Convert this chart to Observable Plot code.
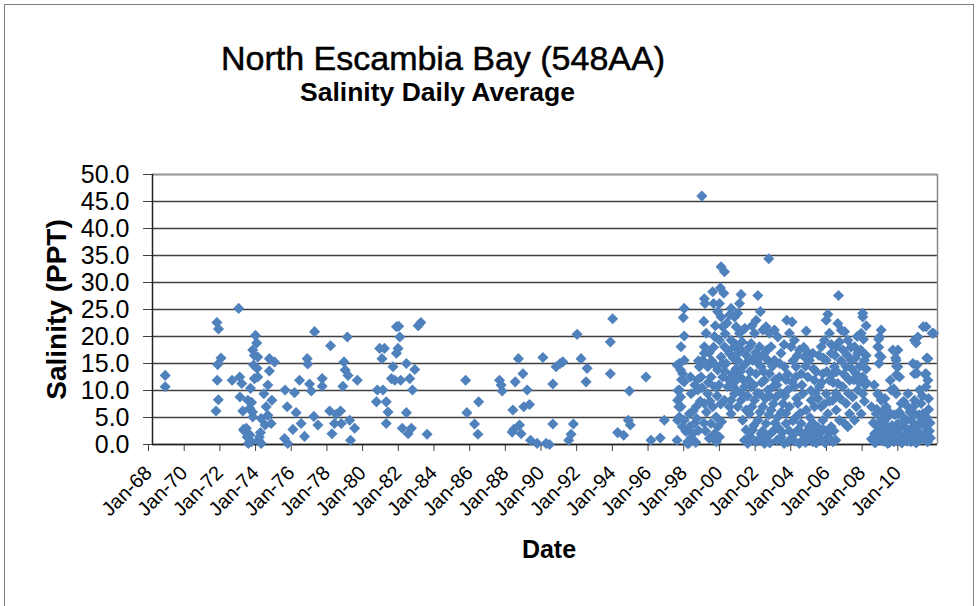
<!DOCTYPE html>
<html>
<head>
<meta charset="utf-8">
<script src="https://cdn.jsdelivr.net/npm/d3@7"></script>
<script src="https://cdn.jsdelivr.net/npm/@observablehq/plot@0.6"></script>
<style>
  html, body { margin: 0; padding: 0; background: #fff; overflow: hidden; }
  #wrap { position: relative; width: 979px; height: 606px; font-family: "Liberation Sans", Arial, sans-serif; }
  #border { position: absolute; left: 4px; top: 4px; width: 970px; height: 720px; border: 1px solid #7f7f7f; box-sizing: border-box; }
  #title { position: absolute; left: 0; width: 886px; top: 41px; text-align: center; font-size: 34px; color: #000; line-height: 1; -webkit-text-stroke: 0.5px #000; }
  #subtitle { position: absolute; left: 0; width: 875px; top: 79px; text-align: center; font-size: 26.5px; font-weight: bold; color: #000; line-height: 1; }
  #chart { position: absolute; left: 0; top: 0; }
</style>
</head>
<body>
<div id="wrap">
  <div id="border"></div>
  <div id="title">North Escambia Bay (548AA)</div>
  <div id="subtitle">Salinity Daily Average</div>
  <div id="chart"></div>
</div>
<script>
// decimal year, salinity (PPT)
const early = [
  [1968.71,12.8],[1968.71,10.7],
  [1971.61,22.6],[1971.70,21.4],[1971.84,16.0],[1971.65,14.8],[1971.63,11.9],[1971.69,8.3],[1971.56,6.2],
  [1972.83,25.2],[1972.46,11.9],[1972.89,12.5],[1973.0,11.3],[1972.9,8.8],[1973.06,6.2],[1973.1,2.8],
  [1973.77,20.2],[1973.84,18.8],[1973.62,17.5],[1973.71,16.5],[1973.9,16.2],[1973.67,14.7],[1973.86,14.1],
  [1973.71,12.2],[1973.9,12.5],[1973.49,10.4],[1973.34,8.2],[1973.45,6.7],[1973.62,5.1],[1973.26,3.0],
  [1973.3,1.4],[1973.37,0.2],[1973.99,1.4],[1974.09,0.2],[1974.09,4.8],[1974.24,9.4],[1974.37,7.0],
  [1974.46,5.4],[1974.31,3.6],[1974.46,11.0],[1974.55,13.6],[1974.55,15.9],[1974.84,15.3],[1974.69,8.2],
  [1974.65,3.9],[1973.15,2.5],[1973.45,1.8],[1973.55,0.5],[1974.05,2.2],[1973.95,0.8],[1973.55,7.8],[1973.6,6.0],
  [1975.43,10.1],[1975.96,9.6],[1975.55,7.0],[1976.05,5.9],[1975.4,1.1],[1975.58,0.2],[1975.87,2.8],
  [1976.24,11.9],[1976.33,3.9],[1976.52,1.5],[1976.67,15.9],[1976.7,14.9],[1976.8,11.2],[1976.9,9.9],
  [1977.08,20.9],[1977.04,5.2],[1977.27,3.6],[1977.51,12.2],[1977.51,10.8],[1977.98,18.3],[1977.93,6.2],
  [1978.06,2.0],[1978.2,3.9],[1978.3,5.6],[1978.54,6.2],[1978.58,3.9],[1978.67,10.8],[1978.73,15.3],
  [1978.8,13.8],[1978.92,19.9],[1978.96,12.8],[1979.05,4.5],[1979.1,0.8],[1979.33,3.0],[1979.48,11.9],
  [1980.55,7.9],[1980.6,10.1],[1980.92,10.1],[1980.73,17.8],[1981.0,17.8],[1980.86,15.9],[1981.1,7.9],
  [1981.2,6.0],[1981.1,3.9],[1981.48,14.4],[1981.67,16.9],[1981.76,17.8],[1981.86,19.9],[1981.67,21.8],
  [1981.8,21.9],[1981.39,12.2],[1981.58,11.9],[1981.91,11.9],[1982.0,3.0],[1982.23,5.9],[1982.23,15.0],
  [1982.33,2.0],[1982.42,12.2],[1982.51,3.0],[1982.57,10.1],[1982.7,13.9],[1982.89,22.0],[1983.04,22.6],
  [1983.39,1.9]
];
const middle = [
  [1985.55,11.9],[1985.62,5.9],[1986.05,3.8],[1986.24,1.9],[1986.28,7.9],[1987.45,11.9],[1987.54,11.0],
  [1987.6,9.9],[1988.2,6.4],[1988.16,2.3],[1988.25,2.8],[1988.33,11.6],[1988.51,15.9],[1988.57,3.6],
  [1988.66,2.0],[1988.76,13.1],[1988.81,7.0],[1989.0,10.1],[1989.13,7.4],[1989.19,0.8],[1989.56,0.2],
  [1989.88,16.1],[1990.06,0.2],[1990.25,0.0],[1990.44,11.2],[1990.44,3.8],[1990.62,14.4],[1990.85,15.0],
  [1991.0,15.3],[1991.33,0.8],[1991.46,1.9],[1991.59,3.8],[1991.8,20.4],[1992.02,15.9],[1992.3,11.6],
  [1992.36,14.1],[1993.66,19.0],[1993.79,23.3],[1993.66,13.1],[1994.07,2.2],[1994.41,1.7],[1994.67,4.5],
  [1994.78,3.6],[1994.73,9.9],[1995.66,12.5],[1995.94,0.8],[1996.46,1.2],[1996.69,4.5],[1997.4,0.8],
  [1997.43,4.5]
];
const late1990s = [
  [1997.8,25.2],[1997.75,23.5],[1997.8,20.1],[1997.62,18.1],[1997.8,15.6],[1997.53,15.0],[1997.71,13.1],
  [1997.8,11.6],[1997.53,10.1],[1997.43,8.2],[1997.62,7.0],[1997.53,5.1],[1997.8,4.5],[1997.99,2.7],
  [1997.99,0.2],[1997.4,14.7],[1997.6,13.8],[1997.65,12.0],[1997.45,10.0],[1997.6,8.8],[1997.5,7.0],
  [1997.7,3.3],[1997.9,2.4],[1998.1,3.3],[1998.15,0.8],[1998.05,0.2],
  [1998.0,0.5],[1998.28,2.0],[1998.37,3.9],[1998.09,5.7],[1998.47,7.0],[1998.19,9.4],[1998.56,10.1],
  [1998.75,12.5],[1998.65,14.4],[1998.93,16.9],[1998.79,46.0],
  [1998.2,1.2],[1998.45,0.4],[1998.6,2.6],[1998.3,6.2],[1998.5,4.8],[1998.7,8.0],[1998.4,11.0],
  [1998.15,12.5],[1998.6,15.5],
  [1998.93,27.0],[1998.97,26.1],[1998.9,22.8],[1999.03,20.6],[1998.93,18.1],[1998.84,15.6],[1999.12,14.4],
  [1999.31,12.5],[1999.5,10.7],[1999.12,9.4],[1998.93,7.6],[1999.4,7.0],[1999.59,5.1],[1999.68,3.3],
  [1999.5,2.0],[1999.21,1.1],[1999.78,1.4],
  [1999.78,26.1],[1999.68,24.6],[1999.87,23.6],[1999.96,21.8],[1999.78,19.3],[2000.06,18.1],[1999.87,16.2],
  [2000.15,15.0],[1999.68,13.8],[1999.96,12.5],[2000.24,10.7],[2000.06,8.2],[2000.34,7.0],[2000.43,5.7],
  [1999.83,29.0],[2000.02,28.0],[1999.87,32.9],[2000.06,32.0],[1999.4,28.3],[1999.45,26.1],
  [1999.3,3.9],[1999.0,2.5],[1999.9,4.2],[1999.6,0.5],[1999.2,17.0],[1999.5,20.0],[1999.6,14.5]
];
const early2000s = [
  [2000.43,25.2],[2000.62,23.6],[2000.9,26.1],[2000.99,27.8],[2000.8,24.3],[2000.71,21.8],[2000.9,20.6],
  [2000.43,19.3],[2000.62,18.1],[2000.99,17.5],[2000.34,16.9],[2000.8,15.6],[2001.08,14.4],[2000.52,13.1],
  [2000.9,12.5],[2001.18,10.7],[2000.62,9.4],[2000.99,8.2],[2000.43,8.2],[2001.27,6.4],[2000.8,7.0],
  [2001.08,4.5],[2001.27,2.7],[2001.18,0.8],[2001.36,0.2],
  [2001.93,27.6],[2002.07,24.6],[2001.83,23.0],[2001.74,20.6],[2002.21,21.2],[2002.39,21.8],[2002.58,20.6],
  [2001.55,18.7],[2002.02,18.1],[2002.3,16.9],[2001.64,15.6],[2002.11,14.4],[2002.49,15.6],[2001.83,13.1],
  [2002.3,11.9],[2001.55,10.7],[2002.02,9.4],[2002.49,10.1],[2001.74,8.2],[2002.21,7.0],[2001.46,5.7],
  [2001.93,4.5],[2002.39,3.9],[2001.64,2.7],[2002.11,2.0],[2001.36,0.8],[2002.3,0.2],[2001.83,0.5],
  [2002.54,34.4],[2002.86,21.2],[2003.05,19.9],[2002.67,18.1],[2003.23,16.9],[2002.86,15.6],[2003.42,14.4],
  [2002.58,13.1],[2003.14,12.5],[2002.77,10.7],[2003.61,10.1],[2002.95,8.8],[2003.33,7.6],[2002.67,6.4],
  [2003.05,5.1],[2003.51,3.9],[2002.86,2.7],[2003.23,1.4],[2003.61,0.5],[2003.85,22.7],[2003.7,20.6],
  [2003.79,18.1],[2003.55,23.0],
  [2000.2,22.5],[2000.5,11.0],[2000.7,14.0],[2001.0,9.5],[2001.3,16.5],[2001.4,12.0],[2001.6,22.0],
  [2002.0,16.0],[2002.6,9.0],[2002.9,12.0],[2003.2,9.5],[2003.4,18.5],[2003.5,12.0],
  [2001.5,1.5],[2001.7,3.5],[2002.0,1.0],[2002.2,2.5],[2002.4,1.2],[2002.6,0.3],[2002.7,2.2],[2002.9,4.0],
  [2003.0,0.8],[2003.1,3.0],[2003.3,2.2],[2003.4,0.2],[2003.5,5.8],[2003.7,2.5],[2003.8,1.0],[2003.9,4.4]
];
const extra1998to2003 = [
  [1998.55,12.0],[1998.8,10.5],[1998.9,4.0],[1999.05,6.0],[1999.15,11.5],[1999.25,8.0],[1999.35,15.5],
  [1999.45,18.0],[1999.55,22.0],[1999.65,9.0],[1999.75,11.0],[1999.85,7.5],[1999.95,15.0],[2000.1,13.5],
  [2000.1,20.5],[2000.25,17.5],[2000.3,12.0],[2000.35,24.0],[2000.55,16.0],[2000.6,11.5],[2000.7,18.5],
  [2000.75,10.0],[2000.85,17.0],[2000.95,13.5],[2001.05,19.0],[2001.1,12.0],[2001.2,21.5],[2001.25,15.0],
  [2001.35,9.0],[2001.45,18.0],[2001.5,13.5],[2001.6,7.0],[2001.7,11.0],[2001.8,17.0],[2001.9,9.5],
  [2001.95,15.0],[2002.05,6.0],[2002.15,11.5],[2002.25,13.5],[2002.35,8.5],[2002.45,17.5],[2002.55,5.5],
  [2002.75,14.5],[2002.8,7.5],[2003.0,11.0],[2003.15,15.0],[2003.25,6.0],[2003.45,9.0],[2003.6,13.0],
  [2003.7,7.0],[2003.85,11.5],[2003.9,15.5]
];
const mid2000s = [
  [2003.98,19.3],[2004.26,17.5],[2004.64,21.0],[2004.54,16.2],[2004.82,15.6],[2005.01,16.9],[2004.07,14.4],
  [2004.36,13.1],[2004.73,12.5],[2005.1,11.9],[2003.98,10.7],[2004.45,9.4],[2004.92,8.2],[2004.17,7.6],
  [2004.64,6.4],[2005.1,7.0],[2004.07,5.1],[2004.36,3.9],[2004.82,3.3],[2005.1,2.3],[2003.98,2.0],
  [2004.54,1.1],[2005.01,0.5],[2004.26,0.2],[2005.29,1.4],
  [2005.85,24.1],[2005.76,23.0],[2005.94,20.6],[2005.66,19.3],[2005.48,18.1],[2006.04,16.9],[2005.76,15.6],
  [2006.32,18.1],[2006.45,27.6],[2006.41,22.4],[2006.6,21.2],[2006.22,14.4],[2005.57,13.1],[2005.94,11.9],
  [2005.38,10.7],[2006.41,11.3],[2005.76,9.4],[2006.13,8.2],[2005.48,7.0],[2005.85,5.7],[2006.32,6.4],
  [2005.57,4.5],[2006.04,3.3],[2005.38,2.0],[2005.76,1.1],[2006.13,0.5],[2006.5,4.5],
  [2006.79,20.9],[2006.97,19.3],[2007.35,18.1],[2007.81,24.3],[2007.81,23.6],[2007.72,20.6],[2007.53,16.9],
  [2007.16,15.6],[2007.91,15.6],[2006.88,14.4],[2007.44,13.1],[2007.81,12.5],[2007.07,11.9],[2006.69,10.7],
  [2007.53,10.1],[2007.25,8.8],[2007.81,9.4],[2006.88,7.6],[2007.44,7.0],[2007.07,5.7],[2007.72,5.7],
  [2006.79,3.9],[2007.35,4.5],[2006.97,3.3],
  [2004.1,8.5],[2004.4,11.0],[2004.6,14.5],[2004.9,10.0],[2005.2,13.5],[2005.3,8.5],[2005.6,16.0],
  [2006.1,13.0],[2006.3,9.5],[2006.6,15.5],[2006.9,12.5],[2007.2,14.0],[2007.6,11.5],[2007.9,8.0],
  [2004.0,0.6],[2004.2,2.8],[2004.3,5.8],[2004.4,2.0],[2004.6,0.4],[2004.7,2.5],[2004.9,1.5],[2005.0,4.0],
  [2005.2,0.3],[2005.3,3.2],[2005.45,1.0],[2005.6,2.8],[2005.7,0.3],[2005.9,2.2],[2006.0,1.0],[2006.2,2.5],
  [2006.3,0.8]
];
const extra2004to2007 = [
  [2004.05,12.5],[2004.15,16.5],[2004.5,18.0],[2004.75,17.0],[2004.85,5.0],[2005.05,14.0],[2005.15,9.5],
  [2005.35,16.5],[2005.5,11.5],[2005.65,7.5],[2005.8,13.5],[2005.95,8.0],[2006.05,18.5],[2006.15,11.5],
  [2006.25,16.5],[2006.35,13.5],[2006.5,19.0],[2006.55,8.5],[2006.7,17.5],[2006.75,13.0],[2006.95,16.5],
  [2007.0,9.5],[2007.15,18.0],[2007.3,12.0],[2007.4,16.0],[2007.5,20.0],[2007.65,14.5],[2007.7,17.5],
  [2007.85,19.5],[2007.95,11.0]
];
const late2000s = [
  [2008.84,21.2],[2008.75,19.9],[2008.65,18.1],[2008.84,16.2],[2009.5,17.5],[2009.78,17.5],[2009.68,15.6],
  [2008.65,9.4],[2008.84,8.2],[2009.12,7.0],[2009.4,10.1],[2009.68,9.4],[2009.87,12.5],[2009.78,14.4],
  [2008.56,5.7],[2008.84,4.5],[2009.21,5.1],[2008.65,3.3],[2009.03,2.0],[2009.4,1.4],[2008.84,0.8],
  [2009.21,0.2],[2009.59,2.7],[2009.78,3.9],[2008.47,2.0],
  [2008.0,22.0],[2008.0,16.5],[2008.0,14.0],[2008.0,11.5],[2008.7,19.5],[2008.7,18.0],[2008.75,16.5],
  [2008.72,15.0],[2009.65,16.0],[2009.7,14.5],[2009.7,12.9],[2009.35,11.9],[2008.7,9.1],[2009.05,8.5],
  [2009.55,10.3],[2008.3,7.0],[2008.45,11.0],
  [2010.71,19.3],[2010.9,19.9],[2011.36,21.8],[2011.78,20.6],[2011.46,15.9],[2010.62,15.0],[2010.71,13.1],
  [2011.36,13.1],[2011.46,11.9],[2011.36,10.7],[2010.99,10.1],[2010.71,8.2],[2011.08,7.6],[2010.34,7.0],
  [2010.71,5.7],[2011.18,5.7],[2010.52,4.5],[2010.99,3.9],[2011.36,3.3],[2010.34,2.7],[2010.71,2.0],
  [2011.18,1.4],[2010.52,0.5],[2010.15,1.4],[2010.06,5.1],[2009.96,7.6],[2010.34,9.4],
  [2011.2,21.8],[2011.7,20.6],[2010.8,18.8],[2011.4,16.0],[2011.3,13.0],[2010.85,14.7],[2010.85,13.2],
  [2008.3,1.0],[2008.5,0.3],[2008.7,1.8],[2008.95,1.2],[2009.1,3.5],[2009.3,0.4],[2009.5,2.0],[2009.7,0.8],
  [2009.9,1.5],[2010.0,0.3],[2010.2,3.0],[2010.3,0.6],[2010.45,2.2],[2010.6,1.0],[2010.8,0.3],[2010.9,2.5],
  [2011.0,0.8],[2011.1,4.8],[2011.3,1.8],[2011.45,0.5],[2011.5,6.5],[2011.55,2.5]
];
const extra2008to2011 = [
  [2008.4,4.0],[2008.55,1.0],[2008.6,6.5],[2008.8,2.8],[2008.9,6.0],[2009.0,0.6],[2009.0,4.2],[2009.15,1.8],
  [2009.25,2.8],[2009.35,5.8],[2009.45,3.5],[2009.55,0.5],[2009.6,5.5],[2009.8,2.2],[2009.85,6.0],
  [2009.95,3.5],[2010.05,1.0],[2010.1,8.0],[2010.25,4.5],[2010.4,1.5],[2010.45,6.0],[2010.55,3.0],
  [2010.65,7.0],[2010.75,3.5],[2010.85,1.2],[2010.95,5.5],[2011.05,2.0],[2011.15,9.0],[2011.25,3.5],
  [2011.35,0.8],[2011.4,5.0],[2011.5,8.5],[2011.58,4.0],[2011.6,1.2]
];

const yTicks = [0, 5, 10, 15, 20, 25, 30, 35, 40, 45, 50];
const xTickYears = [1968,1970,1972,1974,1976,1978,1980,1982,1984,1986,1988,1990,1992,1994,1996,1998,2000,2002,2004,2006,2008,2010];
const xDomainYears = [1968, 2012];
const titleY = "Salinity (PPT)";
const titleX = "Date";

function toDate(y) {
  const yr = Math.floor(y);
  const start = Date.UTC(yr, 0, 1), end = Date.UTC(yr + 1, 0, 1);
  return new Date(start + (y - yr) * (end - start));
}
const data = [...early, ...middle, ...late1990s, ...early2000s, ...extra1998to2003, ...mid2000s,
  ...extra2004to2007, ...late2000s, ...extra2008to2011]
  .map(([y, v]) => ({date: toDate(y), value: v}));
const xTicks = xTickYears.map(y => new Date(Date.UTC(y, 0, 1)));
const xDomain = xDomainYears.map(y => new Date(Date.UTC(y, 0, 1)));

const chart = Plot.plot({
  width: 979,
  height: 606,
  marginTop: 174,
  marginBottom: 162,
  marginLeft: 152,
  marginRight: 42,
  style: {fontFamily: "'Liberation Sans', Arial, sans-serif", color: "#000", background: "transparent"},
  x: {type: "utc", domain: xDomain},
  y: {domain: [0, 50]},
  marks: [
    Plot.gridY(yTicks, {stroke: "#404040", strokeOpacity: 1, strokeWidth: 1.3}),
    Plot.ruleY([50], {stroke: "#9a9a9a", strokeWidth: 1.5}),
    Plot.ruleX([xDomain[1]], {stroke: "#8a8a8a", strokeWidth: 1.5}),
    Plot.axisY(yTicks, {tickFormat: d3.format(".1f"), fontSize: 25, tickSize: 9, tickPadding: 14, label: null, stroke: "#404040"}),
    Plot.axisX(xTicks, {tickFormat: d3.utcFormat("Jan-%y"), tickRotate: -45, fontSize: 20, tickSize: 7, tickPadding: 18, dx: -4, label: null, stroke: "#404040"}),
    Plot.ruleX([xDomain[0]], {stroke: "#222", strokeWidth: 1.5}),
    Plot.ruleY([0], {stroke: "#222", strokeWidth: 1.5}),
    Plot.dot(data, {x: "date", y: "value", symbol: "diamond2", r: 5, fill: "#4F81BD", stroke: "none"}),
    Plot.text([titleY], {frameAnchor: "left", textAnchor: "middle", dx: -95, rotate: -90, fontSize: 28, fontWeight: "bold", fill: "#000"}),
    Plot.text([titleX], {frameAnchor: "bottom", textAnchor: "middle", dx: 4, dy: 113, fontSize: 25, fontWeight: "bold", fill: "#000"})
  ]
});
document.getElementById("chart").appendChild(chart);
</script>
</body>
</html>
